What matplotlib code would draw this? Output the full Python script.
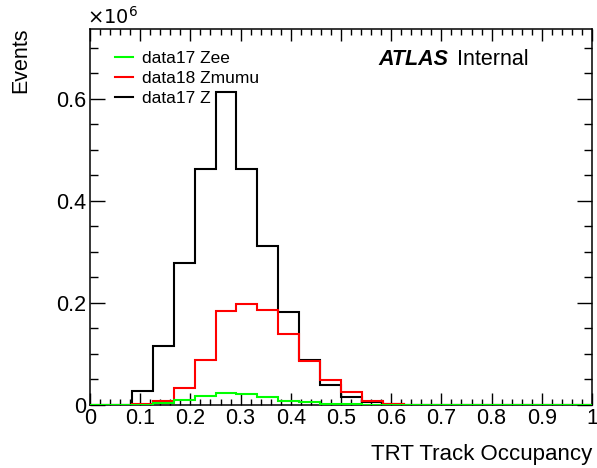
import numpy as np
import matplotlib.pyplot as plt
from matplotlib.ticker import MultipleLocator

plt.rcParams['font.family'] = ['Liberation Sans', 'DejaVu Sans']

# 24 bins over [0, 1]
bin_edges = np.linspace(0, 1, 25)

# bin contents in units of 1e6 events
zee_17 = [0, 0, 0, 0.0045, 0.01, 0.018, 0.024, 0.021, 0.016, 0.0085,
          0.0055, 0.002, 0.001, 0.0005, 0, 0, 0, 0, 0, 0,
          0, 0, 0, 0]
zmumu_18 = [0, 0, 0.001, 0.0085, 0.034, 0.089, 0.185, 0.197, 0.186, 0.14,
            0.086, 0.049, 0.026, 0.0085, 0.002, 0, 0, 0, 0, 0,
            0, 0, 0, 0]
z_17 = [0, 0.0005, 0.027, 0.116, 0.278, 0.462, 0.614, 0.462, 0.312, 0.183,
        0.0876, 0.039, 0.016, 0.0065, 0.001, 0, 0, 0, 0, 0,
        0, 0, 0, 0]

series = [
    ("data17 Zee", zee_17, "#00ff00", 2.6),
    ("data18 Zmumu", zmumu_18, "#ff0000", 2.4),
    ("data17 Z", z_17, "black", 2.2),
]

fig = plt.figure(figsize=(5.97, 4.68), dpi=100)
ax = fig.add_axes([90 / 597, 1 - 405 / 468, 502 / 597, 376 / 468])

for label, vals, color, z in series:
    ax.stairs(vals, bin_edges, color=color, lw=1.5, label=label, zorder=z)

ax.set_xlim(0, 1)
ax.set_ylim(0, 0.737)

ax.xaxis.set_minor_locator(MultipleLocator(0.02))
ax.yaxis.set_minor_locator(MultipleLocator(0.05))
ax.set_xticks(np.arange(0, 1.01, 0.1))
ax.set_xticklabels(["0", "0.1", "0.2", "0.3", "0.4", "0.5", "0.6", "0.7", "0.8", "0.9", "1"])
ax.set_yticks([0, 0.2, 0.4, 0.6])
ax.set_yticklabels(["0", "0.2", "0.4", "0.6"])

ax.tick_params(which='both', direction='in', top=True, right=True,
               labelsize=15.5, width=1)
ax.tick_params(axis='x', which='major', length=8.6, pad=2)
ax.tick_params(axis='x', which='minor', length=4.3)
ax.tick_params(axis='y', which='major', length=10.8, pad=2.5)
ax.tick_params(axis='y', which='minor', length=5.8)
for s in ax.spines.values():
    s.set_linewidth(1.1)

ax.set_xlabel("TRT Track Occupancy", fontsize=16, loc='right')
ax.xaxis.set_label_coords(1.0, -0.104)
ax.set_ylabel("Events", fontsize=15.5, loc='top')
ax.yaxis.set_label_coords(-0.118, 1.003)
ax.text(-0.005, 1.003, r"$\times10^{6}$", transform=ax.transAxes,
        fontsize=14, ha='left', va='bottom', math_fontfamily='dejavusans')

ax.text(0.574, 0.918, "ATLAS", transform=ax.transAxes, fontsize=15.5,
        fontweight='bold', fontstyle='italic', va='center')
ax.text(0.731, 0.918, "Internal", transform=ax.transAxes, fontsize=15.5,
        va='center')

ax.legend(loc='upper left', bbox_to_anchor=(0.05, 0.942), frameon=False,
          fontsize=12.5, handlelength=1.05, handletextpad=0.5,
          labelspacing=0.27, borderaxespad=0, borderpad=0)

fig.savefig("out.png", dpi=100)
